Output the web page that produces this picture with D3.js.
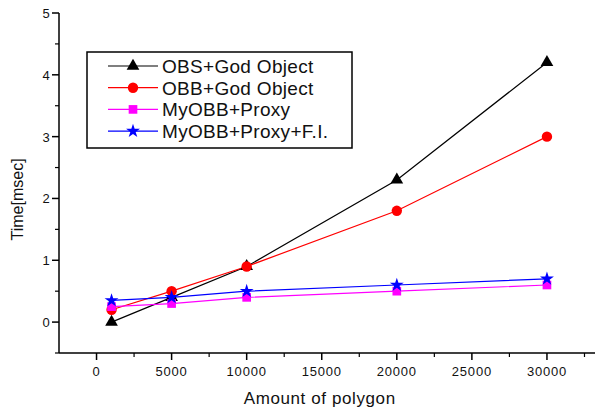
<!DOCTYPE html>
<html>
<head>
<meta charset="utf-8">
<script src="https://cdn.jsdelivr.net/npm/d3@7"></script>
<style>
  body { margin: 0; background: #fff; }
  text { font-family: "Liberation Sans", Arial, sans-serif; fill: #111; }
</style>
</head>
<body>
<div id="chart"></div>
<script>
// data
const polygons = [1000, 5000, 10000, 20000, 30000];
const obsGod = [0, 0.4, 0.9, 2.3, 4.2];
const obbGod = [0.2, 0.5, 0.9, 1.8, 3.0];
const myObbProxy = [0.25, 0.3, 0.4, 0.5, 0.6];
const myObbProxyFI = [0.35, 0.4, 0.5, 0.6, 0.7];
const xTicks = [0, 5000, 10000, 15000, 20000, 25000, 30000];
const yTicks = [0, 1, 2, 3, 4, 5];

const series = [
  { name: "OBS+God Object", values: obsGod, color: "#000000", symbol: d3.symbolTriangle, size: 70 },
  { name: "OBB+God Object", values: obbGod, color: "#ff0000", symbol: d3.symbolCircle, size: 85 },
  { name: "MyOBB+Proxy", values: myObbProxy, color: "#ff00ff", symbol: d3.symbolSquare, size: 75 },
  { name: "MyOBB+Proxy+F.I.", values: myObbProxyFI, color: "#0000ff", symbol: d3.symbolStar, size: 60 }
];

const width = 595, height = 410;
const svg = d3.select("#chart").append("svg")
    .attr("width", width)
    .attr("height", height);

const x = d3.scaleLinear().domain([-2500, 33200]).range([59, 595]);
const y = d3.scaleLinear().domain([-0.5, 5]).range([353, 13]);

// axes
const xAxis = svg.append("g").attr("transform", `translate(0,${y(-0.5)})`);
xAxis.append("line")
    .attr("x1", x(-2500)).attr("x2", 595)
    .attr("stroke", "#000").attr("stroke-width", 1.5);
xAxis.selectAll(".minor")
    .data(d3.range(2500, 33000, 5000))
    .enter().append("line")
    .attr("x1", d => x(d)).attr("x2", d => x(d))
    .attr("y1", 0).attr("y2", 4)
    .attr("stroke", "#000").attr("stroke-width", 1.2);
xAxis.selectAll(".major")
    .data(xTicks)
    .enter().append("line")
    .attr("x1", d => x(d)).attr("x2", d => x(d))
    .attr("y1", 0).attr("y2", 7)
    .attr("stroke", "#000").attr("stroke-width", 1.5);
xAxis.selectAll(".lbl")
    .data(xTicks)
    .enter().append("text")
    .attr("x", d => x(d)).attr("y", 23)
    .attr("text-anchor", "middle")
    .style("font-size", "13px")
    .style("letter-spacing", "0.8px")
    .text(d => d);

const yAxis = svg.append("g").attr("transform", `translate(${x(-2500)},0)`);
yAxis.append("line")
    .attr("y1", y(-0.5)).attr("y2", y(5))
    .attr("stroke", "#000").attr("stroke-width", 1.5);
yAxis.selectAll(".minor")
    .data([-0.5, 0.5, 1.5, 2.5, 3.5, 4.5])
    .enter().append("line")
    .attr("y1", d => y(d)).attr("y2", d => y(d))
    .attr("x1", 0).attr("x2", -4)
    .attr("stroke", "#000").attr("stroke-width", 1.2);
yAxis.selectAll(".major")
    .data(yTicks)
    .enter().append("line")
    .attr("y1", d => y(d)).attr("y2", d => y(d))
    .attr("x1", 0).attr("x2", -7)
    .attr("stroke", "#000").attr("stroke-width", 1.5);
yAxis.selectAll(".lbl")
    .data(yTicks)
    .enter().append("text")
    .attr("x", -13).attr("y", d => y(d) + 5)
    .attr("text-anchor", "middle")
    .style("font-size", "13px")
    .text(d => d);

svg.append("text")
    .attr("transform", `translate(23,${y(2) + 1}) rotate(-90)`)
    .attr("text-anchor", "middle")
    .style("font-size", "16px")
    .text("Time[msec]");

svg.append("text")
    .attr("x", x(15000) - 2).attr("y", 404)
    .attr("text-anchor", "middle")
    .style("font-size", "17px")
    .style("letter-spacing", "0.6px")
    .text("Amount of polygon");

// lines + markers
const line = d3.line()
    .x((d, i) => x(polygons[i]))
    .y(d => y(d));

series.forEach(s => {
  svg.append("path")
      .attr("d", line(s.values))
      .attr("fill", "none")
      .attr("stroke", s.color)
      .attr("stroke-width", 1.2);
});
series.forEach(s => {
  svg.selectAll(null)
      .data(s.values)
      .enter().append("path")
      .attr("transform", (d, i) => `translate(${x(polygons[i])},${y(d)})`)
      .attr("d", d3.symbol().type(s.symbol).size(s.size))
      .attr("fill", s.color);
});

// legend
const legend = svg.append("g");
legend.append("rect")
    .attr("x", 87).attr("y", 52)
    .attr("width", 265).attr("height", 96)
    .attr("fill", "#fff")
    .attr("stroke", "#000").attr("stroke-width", 1.5);
const rows = legend.selectAll(".row")
    .data(series)
    .enter().append("g")
    .attr("transform", (d, i) => `translate(0,${66 + i * 21.7})`);
rows.append("line")
    .attr("x1", 108).attr("x2", 158)
    .attr("stroke", d => d.color).attr("stroke-width", 1.2);
rows.append("path")
    .attr("transform", "translate(133,0)")
    .attr("d", d => d3.symbol().type(d.symbol).size(d.size)())
    .attr("fill", d => d.color);
rows.append("text")
    .attr("x", 162).attr("y", 7)
    .style("font-size", "19px")
    .style("letter-spacing", "0.3px")
    .text(d => d.name);
</script>
</body>
</html>
